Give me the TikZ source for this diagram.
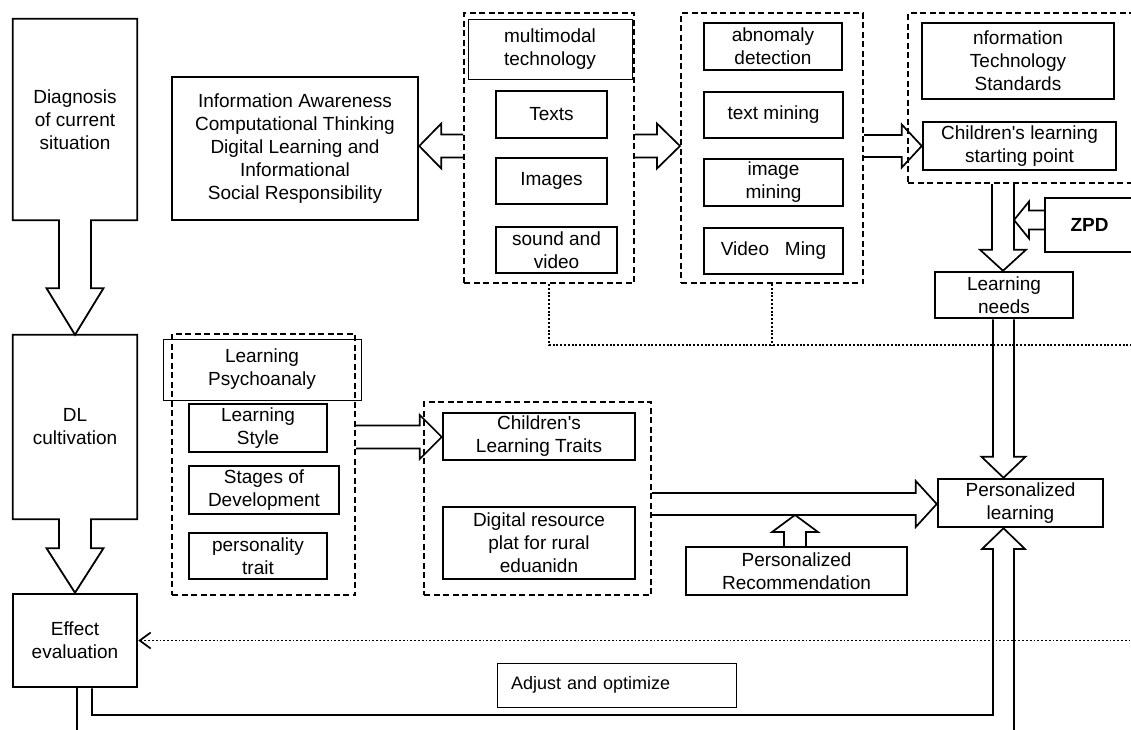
\documentclass[tikz,border=0pt]{standalone}
\usepackage{fontspec}
\setmainfont{Liberation Sans}[Ligatures=TeXOff]
\usetikzlibrary{arrows.meta,calc}

% node placed by its corners: [style]{x1}{y1}{x2}{y2}{name}
\newcommand\rect[6][box]{\node[#1,minimum width={(#4-#2)*1pt},minimum height={(#5-#3)*1pt}] (#6) at ({(#2+#4)/2},{(#3+#5)/2})}

% horizontal block arrow: from, to, y, shaft half width, head half width, head length
\newcommand\harr[6]{%
  \draw[blockarr] let \p1=(#1), \p2=(#2), \p3=(0,#3), \n1={ifthenelse(\x2>\x1,1,-1)} in
    (\x1,{\y3+#4pt}) -- ({\x2-(\n1)*#6pt},{\y3+#4pt}) -- ({\x2-(\n1)*#6pt},{\y3+#5pt}) -- (\x2,\y3)
    -- ({\x2-(\n1)*#6pt},{\y3-#5pt}) -- ({\x2-(\n1)*#6pt},{\y3-#4pt}) -- (\x1,{\y3-#4pt});}
% vertical block arrow: from, to, x, shaft half width, head half width, head length
\newcommand\varr[6]{%
  \draw[blockarr] let \p1=(#1), \p2=(#2), \p3=(#3,0), \n1={ifthenelse(\y2>\y1,1,-1)} in
    ({\x3-#4pt},\y1) -- ({\x3-#4pt},{\y2-(\n1)*#6pt}) -- ({\x3-#5pt},{\y2-(\n1)*#6pt}) -- (\x3,\y2)
    -- ({\x3+#5pt},{\y2-(\n1)*#6pt}) -- ({\x3+#4pt},{\y2-(\n1)*#6pt}) -- ({\x3+#4pt},\y1);}

\tikzset{
  txt/.style={font=\fontsize{19}{23}\selectfont, align=center, inner sep=0pt},
  bare/.style={txt},
  box/.style={txt, draw, line width=2.5pt},
  thinbox/.style={txt, draw, line width=1pt},
  group/.style={draw, line width=2pt, dash pattern=on 6pt off 3.5pt, inner sep=0pt},
  blockarr/.style={draw, line width=1.7pt, line join=miter},
  bigarrow/.style={draw, line width=1.8pt, line join=miter},
  dots/.style={line width=1.9pt, dash pattern=on 1.9pt off 1.9pt},
}

\begin{document}
\begin{tikzpicture}[x=1pt,y=-1pt]
\useasboundingbox (0,0) rectangle (1131,729);
\clip (0,0) rectangle (1131,729);
\fill[white] (0,0) rectangle (1131,729);

% left column: stages
\rect[bare]{13}{19}{137}{220}{diag}{Diagnosis\\of current\\situation};
\rect[bare]{13}{335}{137}{519}{dl}{DL\\cultivation};
\rect{13}{594}{137}{687}{eff}{Effect\\evaluation};

\draw[bigarrow] (diag.south west) -- (diag.north west) -- (diag.north east) -- (diag.south east)
  -- ($(diag.south)+(16,0)$) -- ($(diag.south)+(16,68)$) -- ($(diag.south)+(28.5,68)$) -- (dl.north)
  -- ($(diag.south)+(-28.5,68)$) -- ($(diag.south)+(-16,68)$) -- ($(diag.south)+(-16,0)$) -- cycle;
\draw[bigarrow] (dl.south west) -- (dl.north west) -- (dl.north east) -- (dl.south east)
  -- ($(dl.south)+(16,0)$) -- ($(dl.south)+(16,29)$) -- ($(dl.south)+(28.5,29)$) -- (eff.north)
  -- ($(dl.south)+(-28.5,29)$) -- ($(dl.south)+(-16,29)$) -- ($(dl.south)+(-16,0)$) -- cycle;

% top row
\rect[group]{464}{13}{634}{283}{g1}{};
\rect[group]{681}{13}{863}{283}{g2}{};
\rect[group]{908}{13}{1136}{183}{g3}{};
\rect{172}{77}{418}{220}{info}{Information Awareness\\Computational Thinking\\Digital Learning and\\Informational\\Social Responsibility};
\rect[thinbox]{468}{19}{632}{79}{mm}{multimodal\\technology};
\rect{496}{91}{607}{138}{texts}{Texts};
\rect{496}{158}{607}{204}{images}{Images};
\rect{496}{227}{617}{273}{sv}{sound and\\video};
\rect{704}{23}{842}{70}{ad}{abnomaly\\detection};
\rect{704}{92}{843}{138}{tm}{text mining};
\rect{704}{159}{843}{206}{im}{image\\mining};
\rect{704}{228}{843}{274}{vm}{Video~~~Ming};
\rect{922}{23}{1114}{99}{its}{nformation\\Technology\\Standards};
\rect{923}{122}{1116}{170}{csp}{Children's learning\\starting point};
\rect{1045}{198}{1134}{252}{zpd}{\textbf{ZPD}};
\rect{935}{272}{1073}{318}{ln}{Learning\\needs};

% middle row
\rect[group]{172}{334}{355}{595}{g4}{};
\rect[thinbox]{163}{339}{361}{400}{lp}{Learning\\Psychoanaly};
\rect{189}{404}{327}{452}{ls}{Learning\\Style};
\rect{189}{466}{339}{514}{sd}{Stages of\\Development};
\rect{189}{533}{327}{579}{pt}{personality\\trait};
\rect[group]{424}{402}{651}{595}{g5}{};
\rect{443}{413}{635}{460}{clt}{Children's\\Learning Traits};
\rect{443}{507}{635}{579}{drp}{Digital resource\\plat for rural\\eduanidn};
\rect{938}{479}{1103}{527}{pl}{Personalized\\learning};
\rect{686}{547}{907}{595}{pr}{Personalized\\Recommendation};
\node[thinbox, align=left, text width=211pt, inner xsep=14pt, minimum height=44pt,
      font=\fontsize{18}{22}\selectfont] (ao) at (616.5,685) {Adjust and optimize};

% block arrows
\harr{g1.west}{info.east}{146}{11.5}{22.5}{22}
\harr{g1.east}{g2.west}{146}{11.5}{22.5}{23}
\harr{g2.east}{csp.west}{146}{11}{21.5}{20}
\harr{g4.east}{clt.west}{437}{11.5}{22}{22}
\harr{g5.east}{pl.west}{504}{11}{23}{21}
\coordinate (lnshaft) at (1014,220);
\harr{zpd.west}{lnshaft}{220}{9.5}{18.5}{15}
\varr{g3.south}{ln.north}{1003}{11}{23}{21}
\varr{ln.south}{pl.north}{1003.5}{10.5}{22}{21}
\coordinate (recin) at (795,515);
\varr{pr.north}{recin}{795}{11}{23}{17}

% feedback loop from evaluation back to personalized learning
\draw[blockarr] ($(eff.south)+(2,0)$) -- ++(0,60);
\draw[blockarr] ($(eff.south)+(17,0)$) |- (993,715) -- (993,549) -- (982,549)
  -- ($(pl.south)+(-17,0)$) -- (1025,549) -- (1014,549) -- (1014,750);

% dotted links
\draw[dots] (g1.south) |- (1140,345);
\draw[dots] (g2.south) -- ++(0,62);
\draw[dots, {Straight Barb[length=11pt,width=16pt,line width=1.7pt]}-] (eff.east) -- ++(1010,0);
\end{tikzpicture}
\end{document}
